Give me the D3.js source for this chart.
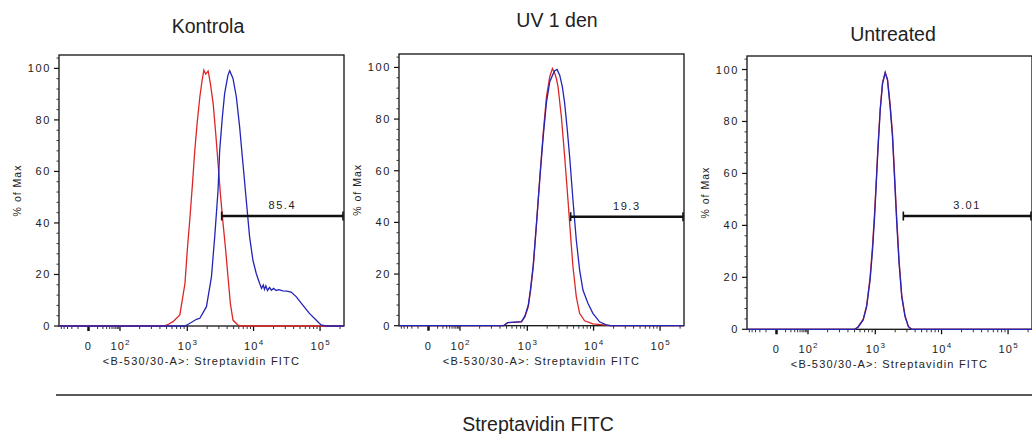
<!DOCTYPE html>
<html>
<head>
<meta charset="utf-8">
<script src="https://cdn.jsdelivr.net/npm/d3@7"></script>
<style>
  body { margin: 0; background: #fff; }
  svg { display: block; font-family: "Liberation Sans", Arial, sans-serif; }
</style>
</head>
<body>
<svg id="chart" width="1032" height="434"></svg>
<script>
// ---- data ----
const PANEL_TITLES = ["Kontrola", "UV 1 den", "Untreated"];
const GATE_LABELS = ["85.4", "19.3", "3.01"];
const GATE_START = [3310, 4520, 2655];   // gate lower bound (fluorescence)
const GATE_LEVEL = [42.7, 42.2, 43.6];   // gate drawn at this % of max
const Y_TICKS = [0, 20, 40, 60, 80, 100];
const X_TICKS = [0, 100, 1000, 10000, 100000];
const X_TICK_LABELS = [["0", ""], ["10", "2"], ["10", "3"], ["10", "4"], ["10", "5"]];
const X_AXIS_LABEL = "<B-530/30-A>: Streptavidin FITC";
const Y_AXIS_LABEL = "% of Max";
const BOTTOM_TITLE = "Streptavidin FITC";

// Kontrola
const RED_X_1 = [-60, 450, 520, 620, 780, 925, 1000, 1100, 1200, 1300, 1410, 1550, 1680, 1780, 1900, 2070, 2240, 2460, 2690, 2920, 3160, 3470, 3800, 4120, 4470, 4900, 5820, 6500, 229000];
const RED_Y_1 = [0, 0, 0.5, 1.7, 4.3, 16.5, 29.5, 42.4, 55.4, 68.3, 78.7, 89, 95.5, 99.3, 97.8, 99, 94, 86.4, 74.8, 63.1, 51.5, 39.9, 29.5, 19.1, 8.8, 2.3, 0.3, 0, 0];
const BLUE_X_1 = [-60, 900, 977, 1380, 1550, 1950, 2320, 2600, 2920, 3090, 3390, 3670, 4120, 4370, 4900, 5500, 6170, 6920, 7760, 8710, 9770, 10970, 12300, 13200, 14000, 14600, 15300, 16200, 17400, 18500, 20000, 21900, 24000, 27500, 31500, 36700, 43700, 55000, 69200, 87100, 103500, 123000, 229000];
const BLUE_Y_1 = [0, 0, 0.3, 2.6, 3.0, 7.5, 19.1, 34.7, 52.8, 68.3, 81.2, 90.3, 97.4, 99.1, 96.1, 89.0, 77.3, 63.1, 48.9, 34.7, 25.6, 20.4, 16.6, 14.6, 15.9, 14.2, 15.6, 13.8, 15.0, 13.9, 14.6, 13.8, 14.1, 13.6, 13.5, 13.2, 11.4, 8.1, 4.9, 2.3, 0.4, 0, 0];

// UV 1 den
const RED_X_2 = [-60, 450, 520, 824, 925, 1036, 1123, 1231, 1381, 1549, 1739, 1950, 2188, 2399, 2602, 2754, 2918, 3273, 3673, 4121, 4519, 4898, 5495, 6166, 7328, 9772, 15490, 18000, 229000];
const RED_Y_2 = [0, 0, 1.2, 1.5, 3.5, 7.4, 13.8, 22.8, 39.6, 57.7, 74.4, 88.6, 96.4, 99.6, 97.7, 95.7, 92.5, 80.9, 65.4, 48.6, 34.4, 22.8, 11.2, 4.8, 1.9, 0.7, 0.2, 0, 0];
const BLUE_X_2 = [-60, 450, 520, 824, 925, 1036, 1123, 1231, 1381, 1549, 1739, 1950, 2188, 2455, 2602, 2818, 3090, 3390, 3673, 4027, 4365, 4898, 5495, 6166, 6918, 8222, 9772, 12303, 15490, 18000, 229000];
const BLUE_Y_2 = [0, 0, 1.2, 1.6, 3.8, 8.0, 14.5, 23.5, 40, 57, 73, 86.5, 94.5, 97.5, 98.7, 99.2, 97.0, 92.5, 86.1, 75.7, 65.4, 48.6, 33.2, 21.6, 13.8, 8.7, 4.8, 1.5, 0.3, 0, 0];

// Untreated
const RED_X_3 = [-60, 500, 562, 668, 750, 841, 912, 977, 1035, 1096, 1188, 1288, 1412, 1530, 1678, 1820, 1950, 2113, 2290, 2512, 2818, 3162, 3548, 229000];
const RED_Y_3 = [0, 0, 0.9, 3.9, 9.2, 20, 32, 45, 57.5, 70, 85, 95, 98.9, 96.3, 86.5, 75.5, 60.5, 42.5, 26.5, 13.2, 5.2, 1.1, 0, 0];
const BLUE_X_3 = [-60, 500, 562, 668, 750, 841, 912, 977, 1035, 1096, 1188, 1288, 1412, 1530, 1678, 1820, 1950, 2113, 2290, 2512, 2818, 3162, 3548, 229000];
const BLUE_Y_3 = [0, 0, 0.8, 3.6, 8.7, 19, 30.5, 43.3, 56.2, 69, 84.4, 94.6, 98.7, 95.9, 85.6, 74.1, 58.7, 40.8, 25.4, 12.5, 4.9, 1.0, 0, 0];

const SERIES = [
  { red: [RED_X_1, RED_Y_1], blue: [BLUE_X_1, BLUE_Y_1] },
  { red: [RED_X_2, RED_Y_2], blue: [BLUE_X_2, BLUE_Y_2] },
  { red: [RED_X_3, RED_Y_3], blue: [BLUE_X_3, BLUE_Y_3] }
];

// ---- layout ----
const PANELS = [
  { left: 59,  top: 55, bottom: 326,   titleX: 208, titleY: 33 },
  { left: 399, top: 54, bottom: 325.7, titleX: 557, titleY: 27 },
  { left: 747, top: 56, bottom: 329.3, titleX: 893, titleY: 41 }
];
const PLOT_W = 285;
const Y_MAX = 105.2;
// biexponential-ish display: linear-ish near 0, log above 10^2
const X_BREAKS = [-60, 0, 100, 1000, 229000];
const X_BREAK_PX = [0, 29.5, 61, 128.3, 285];
const RED = "#dc2626";
const BLUE = "#2424b8";

const svg = d3.select("#chart");
svg.append("rect").attr("width", 1032).attr("height", 434).attr("fill", "#fff");

function makeX(left) {
  const inner = d3.scaleSymlog().constant(10);
  const outer = d3.scaleLinear()
    .domain(X_BREAKS.map(inner))
    .range(X_BREAK_PX.map(p => left + p));
  return v => outer(inner(v));
}

// minor tick values for the x axis
const xMinor = [];
[-50, -40, -30, -20, -10, 10, 20, 30, 40, 50, 60, 70, 80, 90].forEach(v => xMinor.push(v));
[100, 1000, 10000].forEach(d => d3.range(2, 10).forEach(k => xMinor.push(k * d)));
xMinor.push(200000);

PANELS.forEach((p, i) => {
  const x = makeX(p.left);
  const y = d3.scaleLinear().domain([0, Y_MAX]).range([p.bottom, p.top]);
  const g = svg.append("g");
  const right = p.left + PLOT_W;

  // title
  g.append("text")
    .attr("x", p.titleX).attr("y", p.titleY)
    .attr("text-anchor", "middle")
    .style("font-size", "19.5px").style("fill", "#222")
    .text(PANEL_TITLES[i]);

  // frame
  g.append("rect")
    .attr("x", p.left).attr("y", p.top)
    .attr("width", PLOT_W).attr("height", p.bottom - p.top)
    .attr("fill", "none").attr("stroke", "#111").attr("stroke-width", 1.3);

  // y axis ticks
  const yMinor = d3.range(0, 105, 4).filter(v => v % 20 !== 0);
  g.append("g").selectAll("line").data(yMinor).join("line")
    .attr("x1", p.left - 2.5).attr("x2", p.left)
    .attr("y1", d => y(d)).attr("y2", d => y(d))
    .attr("stroke", "#333").attr("stroke-width", 1);
  g.append("g").selectAll("line").data(Y_TICKS).join("line")
    .attr("x1", p.left - 5).attr("x2", p.left)
    .attr("y1", d => y(d)).attr("y2", d => y(d))
    .attr("stroke", "#111").attr("stroke-width", 1.2);
  g.append("g").selectAll("text").data(Y_TICKS).join("text")
    .attr("x", p.left - 8).attr("y", d => y(d) + 4)
    .attr("text-anchor", "end")
    .style("font-size", "11px").style("letter-spacing", "1.6px").style("fill", "#222")
    .text(d => d);

  // y label
  g.append("text")
    .attr("transform", `translate(${p.left - 38},${(p.top + p.bottom) / 2}) rotate(-90)`)
    .attr("text-anchor", "middle")
    .style("font-size", "10.5px").style("letter-spacing", "1px").style("fill", "#222")
    .text(Y_AXIS_LABEL);

  // x axis ticks
  g.append("g").selectAll("line").data(xMinor).join("line")
    .attr("x1", d => x(d)).attr("x2", d => x(d))
    .attr("y1", p.bottom).attr("y2", p.bottom + 3)
    .attr("stroke", "#333").attr("stroke-width", 1);
  g.append("g").selectAll("line").data(X_TICKS).join("line")
    .attr("x1", d => x(d)).attr("x2", d => x(d))
    .attr("y1", p.bottom).attr("y2", p.bottom + 5)
    .attr("stroke", "#111").attr("stroke-width", d => d === 0 ? 2.5 : 1.3);
  const xl = g.append("g").selectAll("text").data(X_TICKS).join("text")
    .attr("x", d => x(d)).attr("y", p.bottom + 24)
    .attr("text-anchor", "middle")
    .style("font-size", "11px").style("letter-spacing", "1.2px").style("fill", "#222");
  xl.append("tspan").text((d, j) => X_TICK_LABELS[j][0]);
  xl.append("tspan")
    .attr("dy", -5).style("font-size", "8px").style("letter-spacing", "0")
    .text((d, j) => X_TICK_LABELS[j][1]);

  // x label
  g.append("text")
    .attr("x", p.left + PLOT_W / 2).attr("y", p.bottom + 39)
    .attr("text-anchor", "middle")
    .style("font-size", "11px").style("letter-spacing", "1.2px").style("fill", "#222")
    .text(X_AXIS_LABEL);

  // histograms: red first, blue on top
  const plot = g.append("g");
  const line = d3.line().x(d => x(d[0])).y(d => y(d[1]));
  [["red", RED], ["blue", BLUE]].forEach(([key, col]) => {
    const [xs, ys] = SERIES[i][key];
    plot.append("path")
      .datum(xs.map((v, k) => [v, ys[k]]))
      .attr("d", line)
      .attr("fill", "none").attr("stroke", col).attr("stroke-width", 1.3);
  });

  // gate
  const gx1 = x(GATE_START[i]), gx2 = x(X_BREAKS[X_BREAKS.length - 1]) - 1;
  const gy = y(GATE_LEVEL[i]);
  g.append("line").attr("x1", gx1).attr("x2", gx2).attr("y1", gy).attr("y2", gy)
    .attr("stroke", "#111").attr("stroke-width", 2.4);
  [gx1, gx2].forEach(gxv => g.append("line")
    .attr("x1", gxv).attr("x2", gxv).attr("y1", gy - 4.5).attr("y2", gy + 4.5)
    .attr("stroke", "#111").attr("stroke-width", 1.6));
  g.append("text")
    .attr("x", (gx1 + gx2) / 2).attr("y", gy - 7)
    .attr("text-anchor", "middle")
    .style("font-size", "11px").style("letter-spacing", "1.6px").style("fill", "#222")
    .text(GATE_LABELS[i]);
});

// common bottom line and title
svg.append("line").attr("x1", 56).attr("x2", 1032).attr("y1", 395).attr("y2", 395)
  .attr("stroke", "#222").attr("stroke-width", 1.4);
svg.append("text")
  .attr("x", 538).attr("y", 431)
  .attr("text-anchor", "middle")
  .style("font-size", "19.5px").style("fill", "#222")
  .text(BOTTOM_TITLE);
</script>
</body>
</html>
